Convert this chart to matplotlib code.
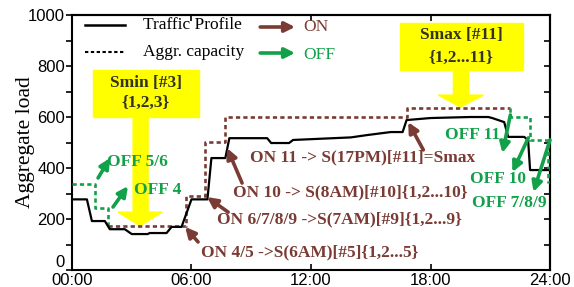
import matplotlib.pyplot as plt
from matplotlib.patches import Polygon, Rectangle, FancyArrowPatch

# traffic profile (hours, load)
traffic_hours = [0, 0.75, 1.0, 1.65, 1.9, 2.65, 3.0, 3.8, 3.9, 4.75, 5.0, 5.5, 6.0, 6.8, 7.0,
                 7.7, 7.9, 9.8, 10.0, 10.9, 11.1, 14.0, 14.8, 16.0, 16.6, 16.8, 18.0, 20.0,
                 20.9, 21.1, 21.7, 21.9, 22.7, 22.9, 23.0, 23.9]
traffic_load = [277, 277, 192, 192, 160, 160, 141, 141, 145, 145, 169, 169, 277, 277, 439,
                439, 517, 517, 498, 498, 510, 520, 529, 541, 541, 588, 596, 600,
                600, 596, 580, 522, 522, 510, 392, 392]

# aggregated capacity, OFF part (start of day), ON part, OFF part (end of day)
cap_off1_hours = [0, 1.15, 1.15, 1.8, 1.8]
cap_off1_load = [337, 337, 243, 243, 172]
cap_on_hours = [1.8, 5.7, 5.7, 6.7, 6.7, 7.7, 7.7, 16.8, 16.8, 22.0]
cap_on_load = [172, 172, 290, 290, 502, 502, 600, 600, 637, 637]
cap_off2_hours = [22.0, 22.0, 23.0, 23.0, 23.9, 23.9]
cap_off2_load = [637, 600, 600, 510, 510, 340]

tick_hours = [0, 6, 12, 18, 24]
tick_labels = ["00:00", "06:00", "12:00", "18:00", "24:00"]

on_labels = ["ON 11 -> S(17PM)[#11]=Smax",
             "ON 10 -> S(8AM)[#10]{1,2...10}",
             "ON 6/7/8/9 ->S(7AM)[#9]{1,2...9}",
             "ON 4/5 ->S(6AM)[#5]{1,2...5}"]
on_text_pos = [(8.94, 443), (8.09, 306), (7.29, 200), (6.48, 71)]
on_arrows = [((17.64, 471), (16.88, 580)),
             ((8.54, 341), (7.79, 478)),
             ((7.84, 227), (6.78, 286)),
             ((6.33, 110), (5.68, 169))]

off_labels = ["OFF 5/6", "OFF 4", "OFF 11", "OFF 10", "OFF 7/8/9"]
off_text_pos = [(1.76, 424), (3.12, 314), (18.74, 529), (20.0, 357), (20.1, 263)]
off_arrows = [((1.31, 361), (1.91, 439)),
              ((2.06, 247), (2.81, 329)),
              ((22.01, 608), (21.61, 459)),
              ((22.91, 518), (22.11, 384)),
              ((24.0, 510), (23.17, 306))]

brown = "#7a3b34"
green = "#12a04a"
yellow = "#ffff00"
serif = "Liberation Serif"
sans = "Liberation Sans"
fs = 12.5

fig = plt.figure(figsize=(5.74, 2.87), dpi=100)
ax = fig.add_axes([0.1254, 0.0592, 0.8328, 0.8885])

ax.plot(traffic_hours, traffic_load, color="black", lw=1.6, zorder=4)
dots = (0, (1.6, 1.2))
ax.plot(cap_off1_hours, cap_off1_load, color=green, lw=1.9, ls=dots, zorder=3)
ax.plot(cap_on_hours, cap_on_load, color=brown, lw=1.9, ls=dots, zorder=3)
ax.plot(cap_off2_hours, cap_off2_load, color=green, lw=1.9, ls=dots, zorder=3, clip_on=False)

ax.set_xlim(0, 24)
ax.set_ylim(0, 1000)
ax.set_xticks(tick_hours)
ax.set_xticklabels(tick_labels, fontfamily=sans, fontsize=12)
ax.set_yticks(range(0, 1001, 200))
ax.set_yticks(range(100, 1000, 200), minor=True)
for lbl in ax.get_yticklabels():
    lbl.set_fontfamily(sans)
    lbl.set_fontsize(12)
ax.get_yticklabels()[0].set_va("bottom")
ax.tick_params(axis="y", which="both", direction="out", length=4, width=1.2, pad=1)
ax.tick_params(axis="x", direction="in", length=4, width=1.2, pad=2)
sy = ax.secondary_yaxis("right")
sy.set_yticks(range(0, 1001, 100))
sy.tick_params(direction="in", length=4, width=1.2, labelright=False)
sx = ax.secondary_xaxis("top")
sx.set_xticks(tick_hours)
sx.tick_params(direction="in", length=4, width=1.2, labeltop=False)
for s in list(ax.spines.values()) + [sy.spines["right"], sx.spines["top"]]:
    s.set_linewidth(1.5)
ax.set_ylabel("Aggregate load", fontfamily=serif, fontsize=15.5)
ax.yaxis.set_label_coords(-0.077, 0.5)

# yellow boxes with arrows
ax.add_patch(Rectangle((1.06, 600), 5.32, 184, color=yellow, zorder=1))
ax.add_patch(Polygon([(3.07, 600), (3.82, 600), (3.82, 227), (4.52, 227), (3.42, 173),
                      (2.31, 227), (3.07, 227)], color=yellow, zorder=1))
ax.text(3.72, 733, "Smin [#3]", ha="center", va="center", fontfamily=serif,
        fontweight="bold", fontsize=fs, color="#333322", zorder=2)
ax.text(3.72, 655, "{1,2,3}", ha="center", va="center", fontfamily=serif,
        fontweight="bold", fontsize=fs, color="#333322", zorder=2)

ax.add_patch(Rectangle((16.48, 784), 6.18, 185, color=yellow, zorder=1))
ax.add_patch(Polygon([(19.15, 784), (19.9, 784), (19.9, 686), (20.65, 686), (19.5, 639),
                      (18.39, 686), (19.15, 686)], color=yellow, zorder=1))
ax.text(19.55, 922, "Smax [#11]", ha="center", va="center", fontfamily=serif,
        fontweight="bold", fontsize=fs, color="#333322", zorder=2)
ax.text(19.55, 831, "{1,2...11}", ha="center", va="center", fontfamily=serif,
        fontweight="bold", fontsize=fs, color="#333322", zorder=2)


def arrow(tail, tip, color):
    a = FancyArrowPatch(tail, tip, arrowstyle="-|>", mutation_scale=15, lw=2.6,
                        color=color, shrinkA=0, shrinkB=0, zorder=5, clip_on=False)
    ax.add_patch(a)


for txt, (x, y) in zip(on_labels, on_text_pos):
    ax.text(x, y, txt, ha="left", va="center", fontfamily=serif, fontweight="bold",
            fontsize=fs, color=brown, zorder=6)
for tail, tip in on_arrows:
    arrow(tail, tip, brown)
for txt, (x, y) in zip(off_labels, off_text_pos):
    ax.text(x, y, txt, ha="left", va="center", fontfamily=serif, fontweight="bold",
            fontsize=fs, color=green, zorder=6)
for tail, tip in off_arrows:
    arrow(tail, tip, green)

# hand made legend
ax.plot([0.65, 2.66], [961, 961], color="black", lw=1.8)
ax.plot([0.65, 2.66], [855, 855], color="black", lw=1.5, ls=dots)
ax.text(3.57, 961, "Traffic Profile", va="center", fontfamily=serif, fontsize=fs)
ax.text(3.57, 855, "Aggr. capacity", va="center", fontfamily=serif, fontsize=fs)
arrow((9.45, 953), (11.2, 953), brown)
arrow((9.45, 851), (11.2, 851), green)
ax.text(11.6, 953, "ON", va="center", fontfamily=serif, fontsize=fs, color=brown)
ax.text(11.6, 843, "OFF", va="center", fontfamily=serif, fontsize=fs, color=green)

plt.savefig("out.png", dpi=100)
